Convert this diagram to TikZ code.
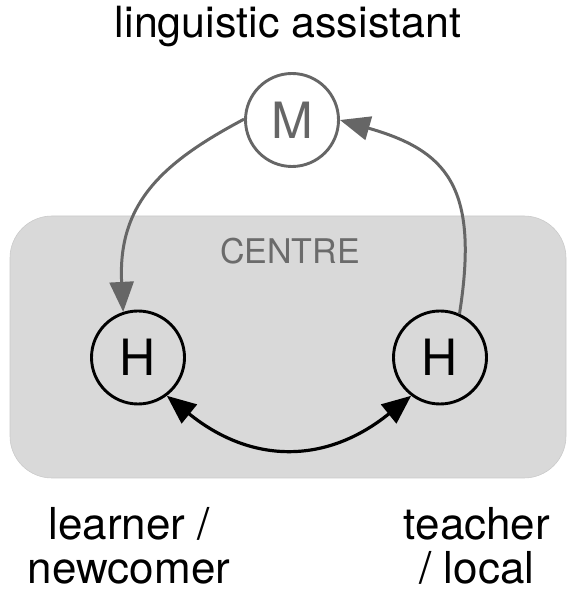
\documentclass[tikz,border=0pt]{standalone}
\usepackage{fontspec}
\setmainfont{TeX Gyre Heros}
\usetikzlibrary{arrows.meta}

\definecolor{linkgray}{HTML}{666666}
\definecolor{zonefill}{HTML}{D9D9D9}
\definecolor{zoneedge}{HTML}{CACACA}
\definecolor{zonetext}{HTML}{6B6B6B}

\begin{document}
\begin{tikzpicture}[x=1pt,y=1pt,
  actor/.style={circle, draw, line width=2.9pt, minimum size=93pt, inner sep=0pt,
    font=\fontsize{50}{60}\selectfont},
  caption/.style={font=\fontsize{44}{44}\selectfont, align=center, anchor=base,
    inner sep=0pt, text depth=0pt},
  flow/.style={draw=linkgray, line width=3pt, -{Triangle[length=30pt,width=24pt]}},
  exchange/.style={draw=black, line width=3.2pt,
    {Triangle[length=29pt,width=24pt]}-{Triangle[length=29pt,width=24pt]}},
]
\useasboundingbox (0,0) rectangle (567,594);

% shaded centre zone
\fill[zonefill, draw=zoneedge, line width=0.6pt, rounded corners=42pt]
  (10,116) rectangle (566,378);
\node[anchor=base, text=zonetext, font=\fontsize{34}{40}\selectfont, inner sep=0pt]
  (zone) at (290,330) {CENTRE};

% participants
\node[actor, draw=linkgray, text=linkgray] (M) at (292,474) {M};
\node[actor] (HL) at (138,236.5) {H};
\node[actor] (HR) at (440,236.5) {H};

% texts (multi-line captions are anchored at the baseline of their last line)
\node[anchor=base, inner sep=0pt, font=\fontsize{43}{50}\selectfont]
  (title) at (288,556) {linguistic assistant};
\node[caption] (learner) at (129,10) {learner /\\newcomer};
\node[caption] (teacher) at (477,10) {teacher\\/ local};

% connectors
\draw[flow] (M.179) .. controls +(208:90) and +(93:110) .. (HL.108);
\draw[flow] (HR.66) .. controls +(81:130) and +(-16:110) .. (M.0);
\draw[exchange] (HL.-53) .. controls +(-39:109) and +(219:109) .. (HR.233);
\end{tikzpicture}
\end{document}
